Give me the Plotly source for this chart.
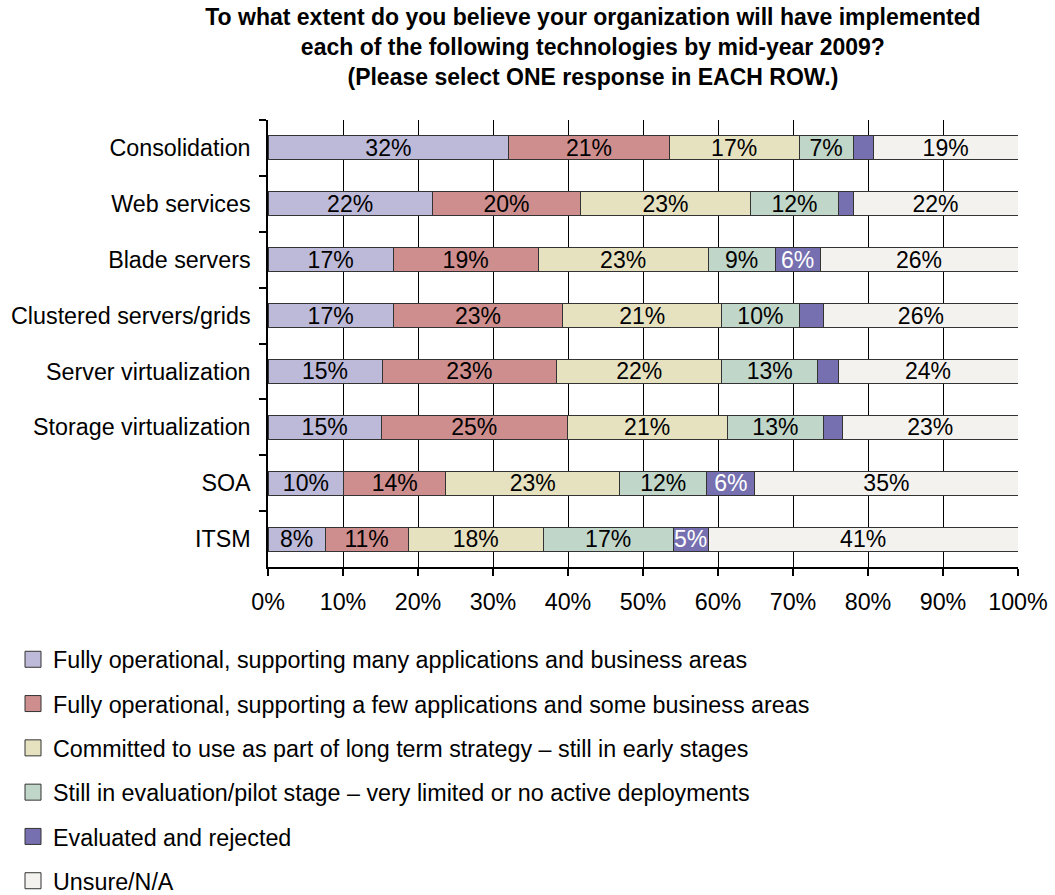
import plotly.graph_objects as go

categories = ["Consolidation", "Web services", "Blade servers", "Clustered servers/grids",
              "Server virtualization", "Storage virtualization", "SOA", "ITSM"]

series_names = [
    "Fully operational, supporting many applications and business areas",
    "Fully operational, supporting a few applications and some business areas",
    "Committed to use as part of long term strategy \u2013 still in early stages",
    "Still in evaluation/pilot stage \u2013 very limited or no active deployments",
    "Evaluated and rejected",
    "Unsure/N/A",
]

fully_many = [32.1, 21.9, 16.7, 16.7, 15.2, 15.1, 10.1, 7.6]
fully_few = [21.4, 19.8, 19.3, 22.6, 23.3, 24.8, 13.6, 11.1]
committed = [17.3, 22.6, 22.7, 21.2, 22.0, 21.3, 23.2, 18.0]
evaluation = [7.2, 11.8, 8.9, 10.3, 12.8, 12.9, 11.6, 17.3]
rejected = [2.7, 1.9, 6.0, 3.3, 2.7, 2.5, 6.4, 4.7]
unsure = [19.3, 22.0, 26.4, 25.9, 24.0, 23.4, 35.1, 41.3]

x_ticks = [0, 10, 20, 30, 40, 50, 60, 70, 80, 90, 100]
x_tick_labels = ["0%", "10%", "20%", "30%", "40%", "50%", "60%", "70%", "80%", "90%", "100%"]

colors = ["#BDB9D9", "#CE8E8E", "#E6E2C0", "#C0D6C8", "#7670B0", "#F3F2EE"]
text_colors = ["black", "black", "black", "black", "white", "black"]

all_series = [fully_many, fully_few, committed, evaluation, rejected, unsure]

FONT = "Liberation Sans, Arial, sans-serif"
FS = 23.3

fig = go.Figure()
for i, (name, vals) in enumerate(zip(series_names, all_series)):
    labels = [f"{v:.0f}%" if v >= 4.5 else "" for v in vals]
    fig.add_trace(go.Bar(
        y=categories, x=vals, name=name, orientation="h",
        marker=dict(color=colors[i], line=dict(color="#333333", width=1)),
        text=labels, textposition="inside", insidetextanchor="middle",
        constraintext="none",
        textfont=dict(family=FONT, size=23, color=text_colors[i]),
        showlegend=False, hoverinfo="x+name",
    ))
# legend entries with larger square swatches
for i, name in enumerate(series_names):
    fig.add_trace(go.Scatter(
        x=[None], y=[None], mode="markers", name=name,
        marker=dict(symbol="square", size=16, color=colors[i],
                    line=dict(color="#333333", width=1)),
        legendgroup=f"g{i}", hoverinfo="skip",
    ))

fig.update_layout(
    barmode="stack",
    bargap=0.57,
    width=1055, height=895,
    paper_bgcolor="white", plot_bgcolor="white",
    margin=dict(l=268, r=37, t=120, b=328, autoexpand=False),
    font=dict(family=FONT, size=FS, color="black"),
    title=dict(
        text="To what extent do you believe your organization will have implemented<br>"
             "each of the following technologies by mid-year 2009?<br>"
             "(Please select ONE response in EACH ROW.)",
        x=0.562, xanchor="center", xref="container",
        y=0.972, yanchor="top", yref="container",
        font=dict(family=FONT, size=23, color="black", weight="bold"),
    ),
    legend=dict(
        orientation="v", x=-0.34, xanchor="left", y=-0.158, yanchor="top",
        traceorder="grouped", tracegroupgap=11,
        font=dict(family=FONT, size=FS, color="black"),
    ),
    xaxis=dict(
        range=[0, 100], tickvals=x_ticks, ticktext=x_tick_labels,
        showgrid=True, gridcolor="black", gridwidth=1.2,
        showline=True, linecolor="black", linewidth=1.5,
        ticks="outside", ticklen=7, tickcolor="black", tickwidth=1.5,
        tickfont=dict(family=FONT, size=FS, color="black"),
        ticklabelstandoff=6,
        zeroline=False, fixedrange=True,
    ),
    yaxis=dict(
        categoryorder="array", categoryarray=categories, autorange="reversed",
        showline=True, linecolor="black", linewidth=1.5,
        ticks="outside", ticklen=7, tickcolor="black", tickwidth=1.5,
        tickson="boundaries", showgrid=False,
        tickfont=dict(family=FONT, size=FS, color="black"),
        ticklabelstandoff=11, fixedrange=True,
    ),
)

fig.write_html("out.html", config={"displayModeBar": False},
               post_script="document.body.style.margin='0';")
